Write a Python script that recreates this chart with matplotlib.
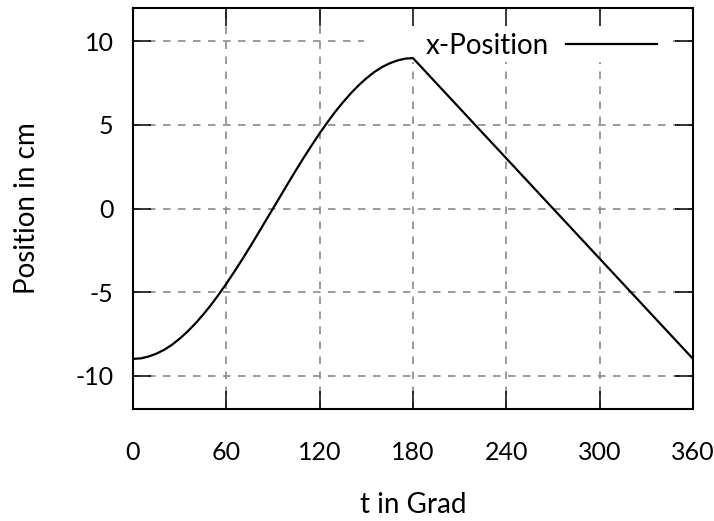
import matplotlib
matplotlib.use("Agg")
import matplotlib.pyplot as plt
from matplotlib.patches import Rectangle

# Data
t_deg = [0, 5, 10, 15, 20, 25, 30, 35, 40, 45, 50, 55, 60, 65, 70, 75, 80, 85,
         90, 95, 100, 105, 110, 115, 120, 125, 130, 135, 140, 145, 150, 155,
         160, 165, 170, 175, 180, 360]
x_pos = [-9.0, -8.97, -8.86, -8.69, -8.46, -8.16, -7.79, -7.37, -6.89, -6.36,
         -5.79, -5.16, -4.5, -3.8, -3.08, -2.33, -1.56, -0.78,
         0.0, 0.78, 1.56, 2.33, 3.08, 3.8, 4.5, 5.16, 5.79, 6.36, 6.89, 7.37,
         7.79, 8.16, 8.46, 8.69, 8.86, 8.97, 9.0, -9.0]
x_ticks = [0, 60, 120, 180, 240, 300, 360]
y_ticks = [-10, -5, 0, 5, 10]
series_label = "x-Position"
x_label = "t in Grad"
y_label = "Position in cm"

plt.rcParams['font.family'] = ['Lato', 'DejaVu Sans']
FS_TICK = 18
FS_TEXT = 20

fig = plt.figure(figsize=(7.14, 5.21), dpi=100)
ax = fig.add_axes([133/714, 112/521, 560/714, 401/521])
ax.set_xlim(0, 360)
ax.set_ylim(-12, 12)

grid_kw = dict(color='#8a8a8a', lw=1.2, ls=(0, (4.5, 4.5)), zorder=0.5)
for xv in x_ticks:
    ax.axvline(xv, **grid_kw)
for yv in y_ticks:
    ax.axhline(yv, **grid_kw)

# opaque key box
ax.add_patch(Rectangle((0.4125, 0.865), 0.552, 0.135, transform=ax.transAxes,
                       facecolor='white', edgecolor='none', zorder=1))

ax.plot(t_deg, x_pos, color='black', lw=1.6, zorder=2, label=series_label)

ax.set_xticks(x_ticks)
ax.set_yticks(y_ticks)
ax.set_xticklabels([str(v) for v in x_ticks])
ax.set_yticklabels([str(v) for v in y_ticks])
ax.tick_params(direction='in', length=13, width=1.1, top=True, right=True,
               labelsize=FS_TICK, colors='black')
ax.tick_params(axis='x', pad=23)
ax.tick_params(axis='y', pad=14)
ax.set_axisbelow(False)
for sp in ax.spines.values():
    sp.set_linewidth(1.5)
    sp.set_zorder(3)

ax.set_xlabel(x_label, fontsize=FS_TEXT)
ax.set_ylabel(y_label, fontsize=FS_TEXT)
ax.xaxis.set_label_coords(0.5, -(492-409)/401)
ax.yaxis.set_label_coords(-(133-40)/560, 0.5)

leg = ax.legend(loc='center right', bbox_to_anchor=((657-133)/560, (409-46)/401),
                frameon=False, markerfirst=False, fontsize=FS_TEXT,
                handlelength=92/28, handletextpad=0.6, borderpad=0,
                borderaxespad=0)
leg.set_zorder(1.5)

fig.savefig("out.png", dpi=100)
